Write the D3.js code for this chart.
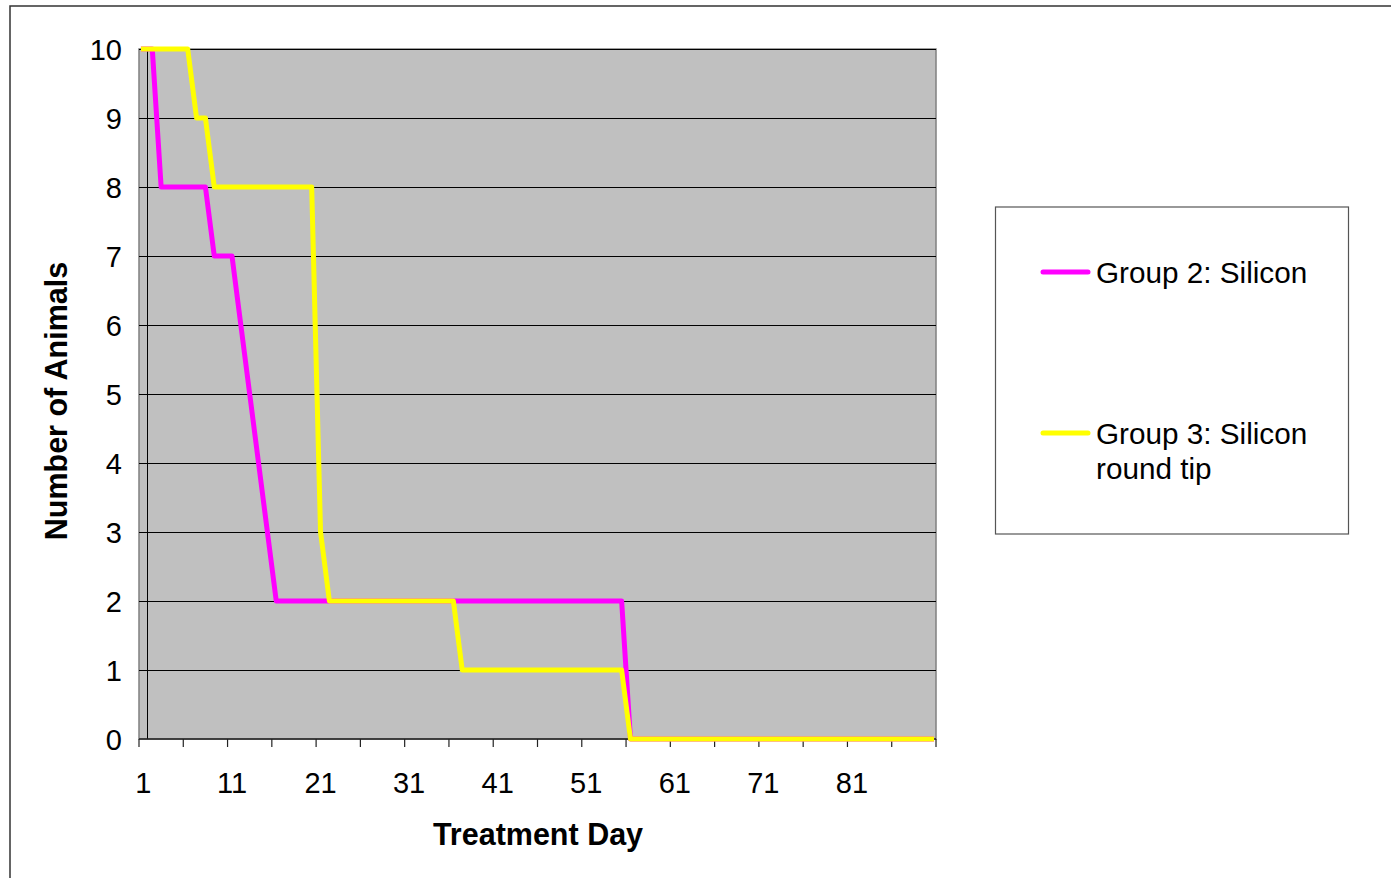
<!DOCTYPE html>
<html><head><meta charset="utf-8">
<script src="https://cdn.jsdelivr.net/npm/d3@7"></script>
<style>
html,body{margin:0;padding:0;background:#fff;}
svg{display:block;font-family:"Liberation Sans",Arial,sans-serif;}
</style></head>
<body>
<svg id="chart" width="1391" height="878"></svg>
<script>
const days = [1,2,3,4,5,6,7,8,9,10,11,12,13,14,15,16,17,18,19,20,21,22,23,24,25,26,27,28,29,30,
31,32,33,34,35,36,37,38,39,40,41,42,43,44,45,46,47,48,49,50,51,52,53,54,55,56,57,58,59,60,
61,62,63,64,65,66,67,68,69,70,71,72,73,74,75,76,77,78,79,80,81,82,83,84,85,86,87,88,89,90];
const group2 = [10,10,8,8,8,8,8,8,7,7, 7,6,5,4,3,2,2,2,2,2, 2,2,2,2,2,2,2,2,2,2, 2,2,2,2,2,2,2,2,2,2,
2,2,2,2,2,2,2,2,2,2, 2,2,2,2,2,0,0,0,0,0, 0,0,0,0,0,0,0,0,0,0, 0,0,0,0,0,0,0,0,0,0, 0,0,0,0,0,0,0,0,0,0];
const group3 = [10,10,10,10,10,10,9,9,8,8, 8,8,8,8,8,8,8,8,8,8, 3,2,2,2,2,2,2,2,2,2, 2,2,2,2,2,2,1,1,1,1,
1,1,1,1,1,1,1,1,1,1, 1,1,1,1,1,0,0,0,0,0, 0,0,0,0,0,0,0,0,0,0, 0,0,0,0,0,0,0,0,0,0, 0,0,0,0,0,0,0,0,0,0];
const xTickLabels = [1,11,21,31,41,51,61,71,81];
const yTicks = [0,1,2,3,4,5,6,7,8,9,10];
const seriesNames = ["Group 2: Silicon", "Group 3: Silicon round tip"];
const seriesColors = ["#FF00FF", "#FFFF00"];

const svg = d3.select("#chart");
const L = 139, R = 936, T = 49, B = 739;
const x = d3.scaleBand().domain(days).range([L, R]).padding(0);
const y = d3.scaleLinear().domain([0, 10]).range([B, T]);
const cx = d => x(d) + x.bandwidth() / 2;

// outer chart frame
svg.append("rect").attr("x", 10).attr("y", 6).attr("width", 1400).attr("height", 900)
  .attr("fill", "#fff").attr("stroke", "#333").attr("stroke-width", 1.5);

// plot area
svg.append("rect").attr("x", L).attr("y", T).attr("width", R - L).attr("height", B - T)
  .attr("fill", "#C0C0C0").attr("stroke", "#808080").attr("stroke-width", 1.5);

// gridlines
svg.append("g").selectAll("line").data(yTicks.filter(v => v > 0)).join("line")
  .attr("x1", L).attr("x2", R).attr("y1", d => y(d)).attr("y2", d => y(d))
  .attr("stroke", "#000").attr("stroke-width", 1).attr("shape-rendering", "crispEdges");

// value axis line crossing at category 2
svg.append("line").attr("x1", x(2)).attr("x2", x(2)).attr("y1", T).attr("y2", B)
  .attr("stroke", "#000").attr("stroke-width", 1).attr("shape-rendering", "crispEdges");

// y axis labels
const yAxis = d3.axisLeft(y).tickValues(yTicks).tickSize(0).tickPadding(0).tickFormat(d3.format("d"));
const gy = svg.append("g").attr("transform", `translate(${122},0)`).call(yAxis);
gy.select(".domain").remove();
gy.selectAll("text").attr("font-size", 29).attr("fill", "#000")
  .attr("font-family", "Liberation Sans, Arial, sans-serif").attr("dy", "0.36em");

// x axis: labels at category centers
const xAxis = d3.axisBottom(x).tickValues(xTickLabels).tickSize(0).tickPadding(0);
const gx = svg.append("g").attr("transform", `translate(0,${B})`).call(xAxis);
gx.select(".domain").remove();
gx.selectAll("text").attr("font-size", 29).attr("fill", "#000")
  .attr("font-family", "Liberation Sans, Arial, sans-serif").attr("dy", 0).attr("y", 54);

// x tick marks at every 5th category boundary
const tickBounds = days.filter((d, i) => i % 5 === 0).map(d => x(d)).concat([R]);
svg.append("g").selectAll("line").data(tickBounds).join("line")
  .attr("x1", d => d).attr("x2", d => d).attr("y1", B).attr("y2", B + 8)
  .attr("stroke", "#222").attr("stroke-width", 1.2);

// x axis line
svg.append("line").attr("x1", L).attr("x2", R).attr("y1", B).attr("y2", B)
  .attr("stroke", "#222").attr("stroke-width", 1.5);

// series lines
const line = d3.line().x((v, i) => cx(days[i])).y(v => y(v)).curve(d3.curveLinear);
[group2, group3].forEach((s, k) => {
  svg.append("path").datum(s).attr("d", line).attr("fill", "none")
    .attr("stroke", seriesColors[k]).attr("stroke-width", 5)
    .attr("stroke-linejoin", "round").attr("stroke-linecap", "square");
});

// axis titles
svg.append("text").attr("x", 538).attr("y", 845).attr("text-anchor", "middle")
  .attr("font-size", 30.5).attr("font-weight", "bold").text("Treatment Day");
svg.append("text").attr("transform", "translate(67,401) rotate(-90)").attr("text-anchor", "middle")
  .attr("font-size", 30.5).attr("font-weight", "bold").text("Number of Animals");

// legend
const lg = svg.append("g");
lg.append("rect").attr("x", 995.5).attr("y", 207).attr("width", 353).attr("height", 327)
  .attr("fill", "#fff").attr("stroke", "#555").attr("stroke-width", 1.2);
const legendY = [272, 433];
const legendLines = [["Group 2: Silicon"], ["Group 3: Silicon", "round tip"]];
legendY.forEach((ly, k) => {
  lg.append("line").attr("x1", 1043).attr("x2", 1088).attr("y1", ly).attr("y2", ly)
    .attr("stroke", seriesColors[k]).attr("stroke-width", 5).attr("stroke-linecap", "round");
  const t = lg.append("text").attr("x", 1096).attr("y", ly + 10.5).attr("font-size", 29.7).attr("fill", "#000");
  legendLines[k].forEach((s, j) => {
    t.append("tspan").attr("x", 1096).attr("dy", j === 0 ? 0 : 35).text(s);
  });
});
</script>
</body></html>
